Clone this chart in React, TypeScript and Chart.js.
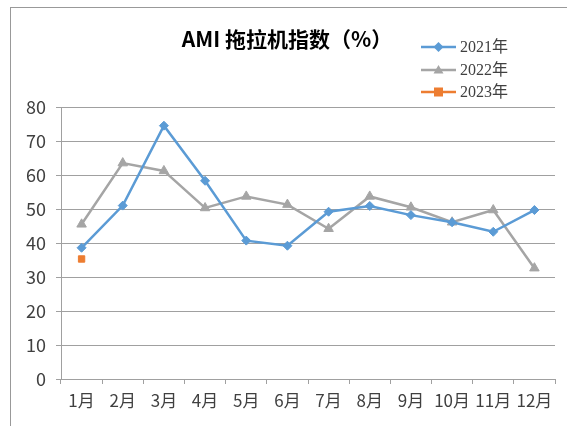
import React, { useEffect, useRef } from "react";
import { Chart, registerables } from "chart.js";

Chart.register(...registerables);

const months = ["1月", "2月", "3月", "4月", "5月", "6月", "7月", "8月", "9月", "10月", "11月", "12月"];
const series2021 = [38.6, 51.0, 74.5, 58.3, 40.7, 39.2, 49.2, 50.9, 48.2, 46.1, 43.3, 49.7];
const series2022 = [45.5, 63.5, 61.2, 50.3, 53.7, 51.3, 44.2, 53.7, 50.5, 46.1, 49.7, 32.6];
const series2023: (number | null)[] = [35.3, null, null, null, null, null, null, null, null, null, null, null];
const yTicks = [0, 10, 20, 30, 40, 50, 60, 70, 80];
const titleText = "AMI 拖拉机指数（%）";
const legendLabels = ["2021年", "2022年", "2023年"];

const BLUE = "#5B9BD5";
const GRAY = "#A5A5A5";
const ORANGE = "#ED7D31";
const LABEL_FONT = "'Liberation Sans Narrow', 'Noto Sans CJK SC', sans-serif";

function marker(ctx: CanvasRenderingContext2D, style: string, x: number, y: number, r: number) {
  ctx.beginPath();
  if (style === "rectRot") {
    ctx.moveTo(x, y - r);
    ctx.lineTo(x + r, y);
    ctx.lineTo(x, y + r);
    ctx.lineTo(x - r, y);
  } else if (style === "triangle") {
    ctx.moveTo(x, y - r);
    ctx.lineTo(x + r, y + r * 0.7);
    ctx.lineTo(x - r, y + r * 0.7);
  } else {
    ctx.rect(x - r * 0.9, y - r * 0.9, r * 1.8, r * 1.8);
  }
  ctx.closePath();
  ctx.fill();
}

const overlayPlugin = {
  id: "overlay",
  afterDraw(chart: any) {
    const ctx = chart.ctx;
    ctx.save();
    ctx.fillStyle = "#000000";
    ctx.font = "bold 21px 'Noto Sans CJK SC', sans-serif";
    ctx.textAlign = "center";
    ctx.textBaseline = "middle";
    ctx.fillText(titleText, 287, 39);
    const rows = [47, 70, 92];
    const colors = [BLUE, GRAY, ORANGE];
    const styles = ["rectRot", "triangle", "rect"];
    rows.forEach((y, i) => {
      ctx.strokeStyle = colors[i];
      ctx.lineWidth = 2.5;
      ctx.beginPath();
      ctx.moveTo(421, y);
      ctx.lineTo(456, y);
      ctx.stroke();
      ctx.fillStyle = colors[i];
      marker(ctx, styles[i], 438.5, y, 5);
      ctx.fillStyle = "#404040";
      ctx.font = "16px 'Liberation Serif', 'Noto Sans CJK SC', serif";
      ctx.textAlign = "left";
      ctx.textBaseline = "middle";
      ctx.fillText(legendLabels[i], 460, y + 1);
    });
    ctx.restore();
  },
};

export default function App() {
  const ref = useRef<HTMLCanvasElement>(null);
  useEffect(() => {
    if (!ref.current) return;
    const chart = new Chart(ref.current, {
      type: "line",
      data: {
        labels: months,
        datasets: [
          {
            label: legendLabels[0],
            data: series2021,
            borderColor: BLUE,
            backgroundColor: BLUE,
            borderWidth: 2.5,
            pointStyle: "rectRot",
            pointRadius: 4.5,
            pointBorderWidth: 1,
            tension: 0,
          },
          {
            label: legendLabels[1],
            data: series2022,
            borderColor: GRAY,
            backgroundColor: GRAY,
            borderWidth: 2.5,
            pointStyle: "triangle",
            pointRadius: 5.5,
            pointBorderWidth: 1,
            tension: 0,
          },
          {
            label: legendLabels[2],
            data: series2023,
            borderColor: ORANGE,
            backgroundColor: ORANGE,
            borderWidth: 2.5,
            pointStyle: "rect",
            pointRadius: 4.5,
            pointBorderWidth: 1,
            tension: 0,
          },
        ],
      },
      options: {
        animation: false,
        responsive: false,
        devicePixelRatio: 1,
        layout: { padding: { left: 11, right: 12, top: 107, bottom: 0 } },
        plugins: {
          legend: { display: false },
          title: { display: false },
          tooltip: { enabled: false },
        },
        scales: {
          x: {
            type: "category",
            offset: true,
            grid: {
              display: true,
              offset: true,
              drawOnChartArea: false,
              drawTicks: true,
              tickLength: 5,
              color: "#a0a0a0",
            },
            border: { display: true, color: "#a0a0a0", width: 1 },
            ticks: {
              color: "#404040",
              font: { family: LABEL_FONT, size: 17 },
              padding: 6,
              maxRotation: 0,
              autoSkip: false,
            },
            afterFit: (s: any) => {
              s.height = 47;
            },
          },
          y: {
            min: 0,
            max: 80,
            afterBuildTicks: (s: any) => {
              s.ticks = yTicks.map((v) => ({ value: v }));
            },
            grid: {
              color: "#a0a0a0",
              lineWidth: 1,
              drawTicks: true,
              tickLength: 5,
            },
            border: { display: true, color: "#a0a0a0", width: 1 },
            ticks: {
              color: "#404040",
              font: { family: LABEL_FONT, size: 18 },
              padding: 10,
            },
            afterFit: (s: any) => {
              s.width = 50;
            },
          },
        },
      },
      plugins: [overlayPlugin],
    });
    return () => chart.destroy();
  }, []);

  return (
    <div style={{ position: "fixed", left: 0, top: 0, width: 567, height: 426, background: "#ffffff" }}>
      <div
        style={{
          position: "absolute",
          left: 10,
          top: 7,
          width: 600,
          height: 500,
          borderTop: "1px solid #999",
          borderLeft: "1px solid #999",
        }}
      />
      <canvas ref={ref} width={567} height={426} style={{ position: "absolute", left: 0, top: 0, width: 567, height: 426 }} />
    </div>
  );
}
